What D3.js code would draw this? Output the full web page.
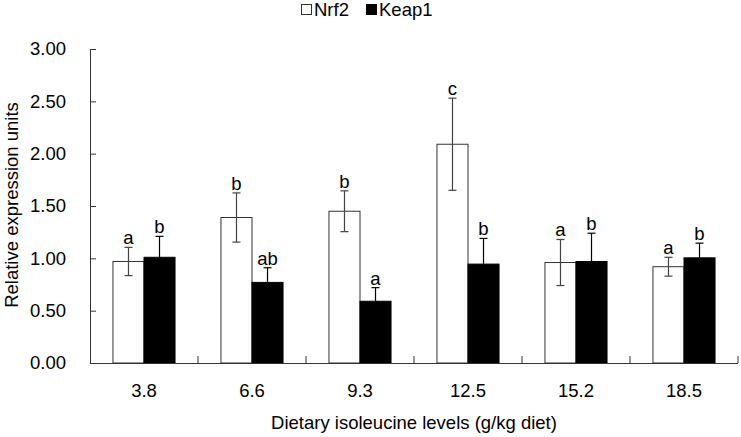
<!DOCTYPE html>
<html>
<head>
<meta charset="utf-8">
<script src="https://cdn.jsdelivr.net/npm/d3@7"></script>
<style>
  body { margin: 0; background: #fff; }
  svg { display: block; font-family: "Liberation Sans", Arial, sans-serif; }
</style>
</head>
<body>
<div class="canvas"></div>
<script>
const levels = ["3.8", "6.6", "9.3", "12.5", "15.2", "18.5"];
const seriesNames = ["Nrf2", "Keap1"];
const nrf2 = [0.97, 1.39, 1.45, 2.09, 0.96, 0.92];
const nrf2Sd = [0.135, 0.235, 0.195, 0.44, 0.22, 0.09];
const nrf2Letters = ["a", "b", "b", "c", "a", "a"];
const keap1 = [1.01, 0.77, 0.59, 0.945, 0.97, 1.005];
const keap1Sd = [0.2, 0.14, 0.13, 0.245, 0.27, 0.14];
const keap1Letters = ["b", "ab", "a", "b", "b", "b"];
const yTicks = [0, 0.5, 1, 1.5, 2, 2.5, 3];

const W = 741, H = 437;
const margin = { left: 90, right: 3, top: 49, bottom: 74 };
const axisColor = "#333";
const fs = 18.5;

const svg = d3.select(".canvas")
  .append("svg")
  .attr("width", W)
  .attr("height", H);

const x = d3.scaleBand()
  .domain(levels)
  .range([margin.left, W - margin.right]);

const xs = d3.scaleBand()
  .domain(seriesNames)
  .range([0, x.bandwidth()])
  .paddingInner(0)
  .paddingOuter(0.74);

const y = d3.scaleLinear()
  .domain([0, 3])
  .range([H - margin.bottom, margin.top]);

const rows = levels.map((lv, i) => ({
  level: lv,
  items: [
    { key: "Nrf2", v: nrf2[i], sd: nrf2Sd[i], letter: nrf2Letters[i] },
    { key: "Keap1", v: keap1[i], sd: keap1Sd[i], letter: keap1Letters[i] }
  ]
}));

const fills = { Nrf2: "#fff", Keap1: "#000" };

// bars
const groups = svg.append("g")
  .selectAll("g")
  .data(rows)
  .join("g")
  .attr("transform", (d) => `translate(${x(d.level)},0)`);

groups.selectAll("rect")
  .data((d) => d.items)
  .join("rect")
  .attr("x", (d) => xs(d.key))
  .attr("y", (d) => y(d.v))
  .attr("width", xs.bandwidth())
  .attr("height", (d) => y(0) - y(d.v))
  .attr("fill", (d) => fills[d.key])
  .attr("stroke", (d) => (d.key === "Nrf2" ? axisColor : "#000"))
  .attr("stroke-width", 1);

// error bars
const err = groups.selectAll("g.err")
  .data((d) => d.items)
  .join("g")
  .attr("class", "err")
  .attr("stroke", (d) => (d.key === "Nrf2" ? "#444" : "#000"))
  .attr("stroke-width", 1.2);

const cx = (d) => xs(d.key) + xs.bandwidth() / 2;
err.append("line")
  .attr("x1", cx).attr("x2", cx)
  .attr("y1", (d) => y(d.v - d.sd))
  .attr("y2", (d) => y(d.v + d.sd));
err.append("line")
  .attr("x1", (d) => cx(d) - 4).attr("x2", (d) => cx(d) + 4)
  .attr("y1", (d) => y(d.v + d.sd))
  .attr("y2", (d) => y(d.v + d.sd));
err.append("line")
  .attr("x1", (d) => cx(d) - 4).attr("x2", (d) => cx(d) + 4)
  .attr("y1", (d) => y(d.v - d.sd))
  .attr("y2", (d) => y(d.v - d.sd));

// significance letters
groups.selectAll("text.sig")
  .data((d) => d.items)
  .join("text")
  .attr("class", "sig")
  .attr("x", cx)
  .attr("y", (d) => y(d.v + d.sd) - 3)
  .attr("text-anchor", "middle")
  .attr("font-size", fs)
  .attr("fill", "#000")
  .text((d) => d.letter);

// y axis
const yAxis = svg.append("g")
  .attr("transform", `translate(${margin.left},0)`)
  .call(d3.axisLeft(y).tickValues(yTicks).tickFormat(d3.format(".2f")).tickSize(-6).tickPadding(24));
yAxis.selectAll("path, line").attr("stroke", axisColor);
yAxis.select(".domain").attr("d", `M0.5,${y(3)}V${y(0)}`);
yAxis.selectAll("text").attr("font-size", fs).attr("fill", "#000")
  .attr("font-family", "Liberation Sans, Arial, sans-serif");

// x axis
const xAxis = svg.append("g")
  .attr("transform", `translate(0,${y(0)})`);
xAxis.append("line")
  .attr("x1", margin.left).attr("x2", W - margin.right)
  .attr("y1", 0.5).attr("y2", 0.5)
  .attr("stroke", axisColor);
xAxis.selectAll("line.tk")
  .data(levels)
  .join("line")
  .attr("class", "tk")
  .attr("x1", (d) => x(d) + x.bandwidth())
  .attr("x2", (d) => x(d) + x.bandwidth())
  .attr("y1", 0).attr("y2", -7)
  .attr("stroke", axisColor);
xAxis.selectAll("text")
  .data(levels)
  .join("text")
  .attr("x", (d) => x(d) + x.bandwidth() / 2)
  .attr("y", 34)
  .attr("text-anchor", "middle")
  .attr("font-size", fs)
  .text((d) => d);

// titles
svg.append("text")
  .attr("x", (margin.left + W - margin.right) / 2)
  .attr("y", 429)
  .attr("text-anchor", "middle")
  .attr("font-size", fs)
  .text("Dietary isoleucine levels (g/kg diet)");

svg.append("text")
  .attr("transform", `translate(18,${y(1.5) - 1}) rotate(-90)`)
  .attr("text-anchor", "middle")
  .attr("font-size", fs)
  .text("Relative expression units");

// legend
const legend = svg.append("g");
const legendX = [301, 366];
seriesNames.forEach((s, i) => {
  legend.append("rect")
    .attr("x", legendX[i] + 0.5).attr("y", 4.5)
    .attr("width", 10).attr("height", 10)
    .attr("fill", fills[s])
    .attr("stroke", s === "Nrf2" ? axisColor : "#000");
  legend.append("text")
    .attr("x", legendX[i] + 13)
    .attr("y", 16)
    .attr("font-size", fs)
    .text(s);
});
</script>
</body>
</html>
